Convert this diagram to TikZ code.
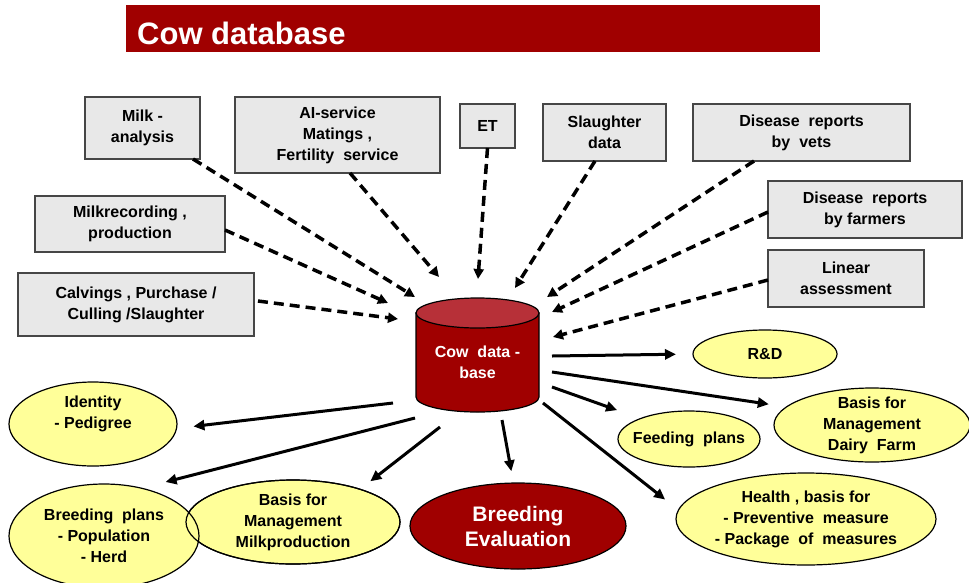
\documentclass[tikz,border=0pt]{standalone}
\usepackage{fontspec}
\setmainfont{Liberation Sans}
\usetikzlibrary{arrows.meta,shapes.geometric}
\definecolor{dbred}{RGB}{160,0,0}
\definecolor{dbtop}{RGB}{183,48,56}
\definecolor{boxgray}{RGB}{232,232,232}
\definecolor{boxline}{RGB}{70,70,70}
\definecolor{ellyellow}{RGB}{255,255,153}
\begin{document}
\begin{tikzpicture}[x=1pt,y=-1pt,
  every node/.style={font=\bfseries\fontsize{16}{21}\selectfont},
  srcbox/.style={draw=boxline, fill=boxgray, line width=1.2pt, inner sep=0pt, outer sep=0pt, align=center},
  outell/.style={ellipse, draw=black, fill=ellyellow, line width=1.2pt, inner xsep=-70pt, inner ysep=-40pt, outer sep=0pt, align=center},
  inarrow/.style={line width=3.5pt, dash pattern=on 10pt off 6pt, -{Triangle[length=10pt,width=10pt]}},
  outarrow/.style={line width=3pt, -{Triangle[length=11pt,width=10pt]}},
]
\useasboundingbox (0,0) rectangle (969,582);
\fill[white] (0,0) rectangle (969,582);

% title
\node[fill=dbred, minimum width=694pt, minimum height=47pt, inner sep=0pt, outer sep=0pt, anchor=north west] (titlebar) at (126,5) {};
\node[anchor=base west, text=white, inner sep=0pt, font=\bfseries\fontsize{31}{36}\selectfont] (title) at (137,44) {Cow database};

% source boxes
\node[srcbox, minimum width=115pt, minimum height=62pt] (milk) at (142.5,128) {Milk -\\analysis};
\node[srcbox, minimum width=205pt, minimum height=76pt] (ai) at (337.5,135) {AI-service\\Matings ,\\Fertility\ \ service};
\node[srcbox, minimum width=190pt, minimum height=56pt] (mrec) at (130,224) {Milkrecording ,\\production};
\node[srcbox, minimum width=236pt, minimum height=63pt] (calv) at (136,304.5) {Calvings , Purchase /\\Culling /Slaughter};
\node[srcbox, minimum width=55pt, minimum height=44pt] (et) at (487.5,126) {ET};
\node[srcbox, minimum width=123pt, minimum height=57pt] (slau) at (604.5,132.5) {Slaughter\\data};
\node[srcbox, minimum width=217pt, minimum height=57pt] (vets) at (801.5,132.5) {Disease\ \ reports\\by\ \ vets};
\node[srcbox, minimum width=194pt, minimum height=57pt] (farm) at (865,209.5) {Disease\ \ reports\\by farmers};
\node[srcbox, minimum width=156pt, minimum height=57pt] (lin) at (846,278.5) {Linear\\assessment};

% cylinder
\path[fill=dbred, draw=black, line width=1.2pt] (416,313) -- (416,397)
  arc[start angle=180, end angle=360, x radius=61.5pt, y radius=15pt] -- (539,313) -- cycle;
\draw[fill=dbtop, line width=1.2pt] (477.5,313) ellipse[x radius=61.5pt, y radius=15pt];
\node[text=white, align=center] (db) at (477.5,362) {Cow\ \ data -\\base};

% output ellipses
\node[outell, minimum width=144pt, minimum height=48pt] (rd) at (765,354) {R\&D};
\node[outell, minimum width=196pt, minimum height=74pt] (dairy) at (872,425) {Basis for\\Management\\Dairy\ \ Farm};
\node[outell, minimum width=142pt, minimum height=56pt] (feed) at (689,439) {Feeding\ \ plans};
\node[outell, minimum width=260pt, minimum height=92pt] (health) at (806,519) {Health , basis for\\- Preventive\ \ measure\\- Package\ \ of\ \ measures};
\node[outell, fill=dbred, text=white, font=\bfseries\fontsize{21}{25}\selectfont, minimum width=216pt, minimum height=86pt] (beval) at (518,526) {Breeding\\Evaluation};
\node[outell, minimum width=214pt, minimum height=84pt] (mprod) at (293,522) {Basis for\\Management\\Milkproduction};
\node[outell, minimum width=190pt, minimum height=104pt] (bplan) at (104,536) {Breeding\ \ plans\\- Population\\- Herd};
\draw[line width=1.2pt] (mprod.center) ellipse[x radius=107pt, y radius=42pt];
\node[outell, minimum width=168pt, minimum height=84pt] (idn) at (93,424) {\raisebox{6pt}[0pt][0pt]{\begin{tabular}{@{}c@{}}Identity\\- Pedigree\end{tabular}}};

% incoming (dashed) connectors
\coordinate (t1) at (415,297);
\coordinate (t2) at (439,277);
\coordinate (t3) at (388,303);
\coordinate (t4) at (398,319);
\coordinate (t5) at (478,279);
\coordinate (t6) at (515,288);
\coordinate (t7) at (547,297);
\coordinate (t8) at (552,312);
\coordinate (t9) at (553,337);
\draw[inarrow] ([xshift=-7pt]milk.south east) -- (t1);
\draw[inarrow] ([xshift=12.5pt]ai.south) -- (t2);
\draw[inarrow] ([yshift=-6pt]mrec.east) -- (t3);
\draw[inarrow, shorten <=4pt] ([yshift=4pt]calv.east) -- (t4);
\draw[inarrow] (et.south) -- (t5);
\draw[inarrow] ([xshift=-9.5pt]slau.south) -- (t6);
\draw[inarrow] ([xshift=61pt]vets.south west) -- (t7);
\draw[inarrow] ([yshift=-2.5pt]farm.west) -- (t8);
\draw[inarrow] ([yshift=-1.5pt]lin.west) -- (t9);

% outgoing (solid) connectors
\coordinate (o1) at (552,356);
\coordinate (o2) at (552,372);
\coordinate (o3) at (552,387);
\coordinate (o4) at (543,403);
\coordinate (o5) at (502,420);
\coordinate (o6) at (440,427);
\coordinate (o7) at (415,418);
\coordinate (o8) at (393,403);
\draw[outarrow, shorten >=17pt] (o1) -- (rd.west);
\draw[outarrow, shorten >=18pt] (o2) -- (dairy.168);
\draw[outarrow, shorten >=25pt] (o3) -- (feed.157);
\draw[outarrow, shorten >=17pt] (o4) -- (health.176);
\draw[outarrow, shorten >=12pt] (o5) -- (beval.96);
\draw[outarrow, shorten >=13pt] (o6) -- (mprod.26);
\draw[outarrow, shorten >=25pt] (o7) -- (bplan.52);
\draw[outarrow, shorten >=17pt] (o8) -- (idn.-3);
\end{tikzpicture}
\end{document}
